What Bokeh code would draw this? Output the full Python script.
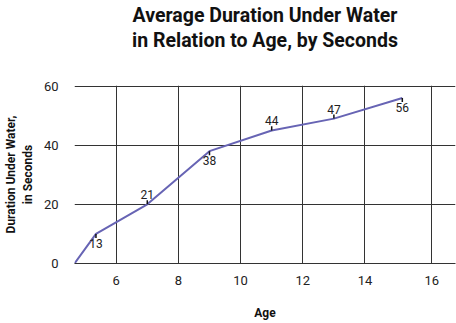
from bokeh.plotting import figure
from bokeh.models import Title, FixedTicker, ColumnDataSource
from bokeh.core.properties import value
from bokeh.embed import file_html
from bokeh.resources import INLINE

# ---- data ----
ages = [4.66, 5.35, 7.0, 9.0, 11.0, 13.0, 15.2]
durations = [0, 10, 20, 38, 45, 49, 56]
label_ages = [5.35, 7.0, 9.0, 11.0, 13.0, 15.2]
label_durations = [10, 20, 38, 45, 49, 56]
label_texts = ["13", "21", "38", "44", "47", "56"]
label_sides = [-1, 1, -1, 1, 1, -1]  # -1 below point, +1 above point
x_ticks = [6, 8, 10, 12, 14, 16.15]
x_tick_labels = {16.15: "16"}
y_ticks = [0, 20, 40, 60]

FONT = "Roboto"
LINE_COLOR = "#6764b4"
GRID_COLOR = "#333333"

p = figure(frame_width=381, frame_height=178,
           x_range=(4.66, 16.91), y_range=(0, 60.2),
           min_border_left=74, min_border_right=1,
           min_border_top=85, min_border_bottom=60,
           output_backend="svg", toolbar_location=None,
           background_fill_color="white", border_fill_color="white")
p.outline_line_color = None

# spacer + titles (first added = closest to plot)
spacer = Title(text=" ", text_font_size="28.5px", standoff=0)
t2 = Title(text="in Relation to Age, by Seconds", align="center",
           text_font=FONT, text_font_size="19.5px", text_font_style="bold",
           text_color="#111111", standoff=0)
t1 = Title(text="Average Duration Under Water", align="center",
           text_font=FONT, text_font_size="19.5px", text_font_style="bold",
           text_color="#111111", standoff=0)
p.add_layout(spacer, "above")
p.add_layout(t2, "above")
p.add_layout(t1, "above")

# axes
p.xaxis.ticker = FixedTicker(ticks=x_ticks)
p.xaxis.major_label_overrides = x_tick_labels
p.yaxis.ticker = FixedTicker(ticks=y_ticks)
for ax in (p.xaxis, p.yaxis):
    ax.major_tick_line_color = None
    ax.minor_tick_line_color = None
    ax.major_label_text_font = FONT
    ax.major_label_text_font_size = "13px"
    ax.major_label_text_color = "#222222"
    ax.axis_label_text_font = FONT
    ax.axis_label_text_font_size = "12px"
    ax.axis_label_text_font_style = "bold"
    ax.axis_label_text_color = "#111111"
p.xaxis.axis_line_color = GRID_COLOR
p.yaxis.axis_line_color = None
p.xaxis.major_label_standoff = 6
p.yaxis.major_label_standoff = 10
p.xaxis.axis_label = "Age"
p.yaxis.axis_label = "Duration Under Water,\nin Seconds"
p.xaxis.axis_label_standoff = 18
p.yaxis.axis_label_standoff = 6

p.xgrid.ticker = FixedTicker(ticks=x_ticks)
p.ygrid.ticker = FixedTicker(ticks=y_ticks)
p.grid.grid_line_color = GRID_COLOR
p.grid.grid_line_width = 1

# line
p.line(ages, durations, line_color=LINE_COLOR, line_width=2)

# small ticks at labelled points
tick_len = 1.4
src = ColumnDataSource(dict(
    x=label_ages,
    y=label_durations,
    y1=[d + s * tick_len for d, s in zip(label_durations, label_sides)],
    text=label_texts,
    yoff=[-5 if s > 0 else 5 for s in label_sides],
    base=["bottom" if s > 0 else "top" for s in label_sides],
))
p.segment(x0="x", y0="y", x1="x", y1="y1", source=src,
          line_color="#111111", line_width=1.5)
p.text(x="x", y="y", text="text", y_offset="yoff", text_baseline="base",
       text_align="center", text_font=value(FONT), text_font_size="12px",
       text_color="#222222", source=src)

open("out.html", "w").write(file_html(p, INLINE))
